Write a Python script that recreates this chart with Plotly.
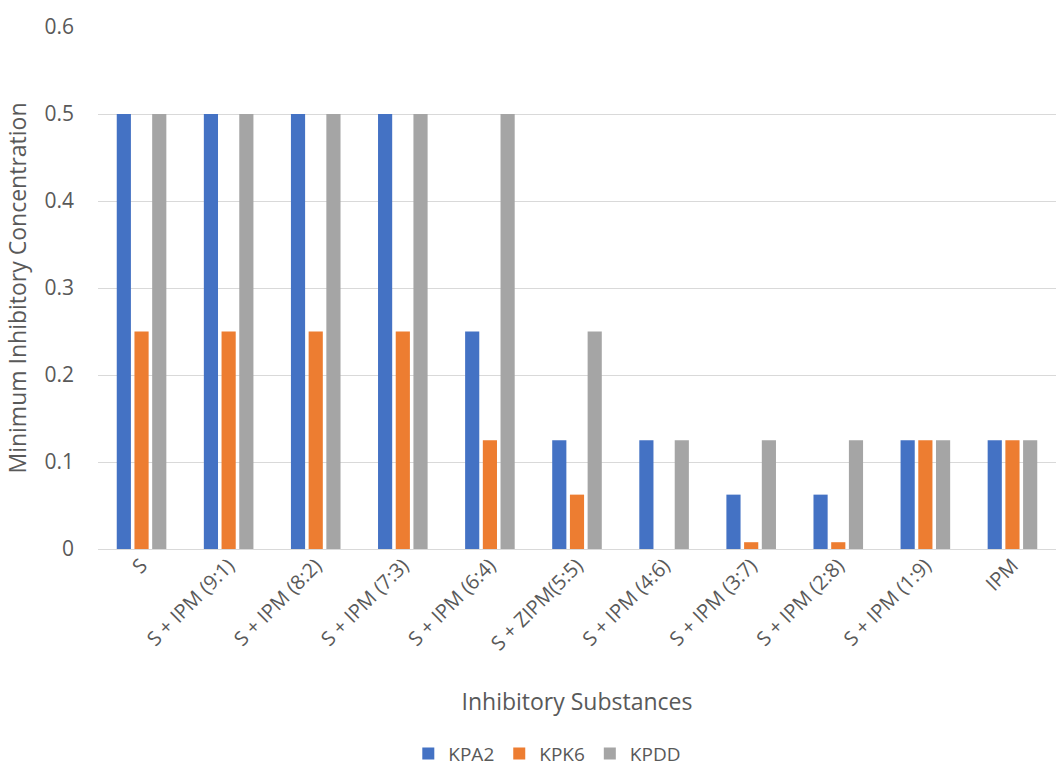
import plotly.graph_objects as go

categories = ["S", "S + IPM (9:1)", "S + IPM (8:2)", "S + IPM (7:3)", "S + IPM (6:4)",
              "S + ZIPM(5:5)", "S + IPM (4:6)", "S + IPM (3:7)", "S + IPM (2:8)",
              "S + IPM (1:9)", "IPM"]
kpa2 = [0.5, 0.5, 0.5, 0.5, 0.25, 0.125, 0.125, 0.0625, 0.0625, 0.125, 0.125]
kpk6 = [0.25, 0.25, 0.25, 0.25, 0.125, 0.0625, 0, 0.0078, 0.0078, 0.125, 0.125]
kpdd = [0.5, 0.5, 0.5, 0.5, 0.5, 0.25, 0.125, 0.125, 0.125, 0.125, 0.125]
y_ticks = [0, 0.1, 0.2, 0.3, 0.4, 0.5, 0.6]

font_family = "Open Sans, Liberation Sans, sans-serif"
text_color = "#595959"

fig = go.Figure()
for name, vals, color in [("KPA2", kpa2, "#4472C4"), ("KPK6", kpk6, "#ED7D31"), ("KPDD", kpdd, "#A5A5A5")]:
    fig.add_trace(go.Bar(x=categories, y=vals, name=name, marker_color=color, marker_line_width=0))

fig.update_layout(
    width=1063, height=781,
    barmode="group", bargap=0.39, bargroupgap=0.2,
    plot_bgcolor="white", paper_bgcolor="white",
    margin=dict(l=98, r=7, t=27, b=232, autoexpand=False),
    font=dict(family=font_family, color=text_color, size=20),
    legend=dict(orientation="h", x=0.469, xanchor="center", y=-0.392, yanchor="middle",
                font=dict(size=19, color=text_color), traceorder="normal", itemwidth=30),
    xaxis=dict(tickangle=-45, tickfont=dict(size=20, color=text_color),
               title=dict(text="Inhibitory Substances", font=dict(size=23, color=text_color), standoff=38),
               showline=False, ticks="", automargin=False),
    yaxis=dict(range=[0, 0.6], tickvals=y_ticks, ticktext=[f"{v:g}" for v in y_ticks],
               tickfont=dict(size=21, color=text_color), gridcolor="#D9D9D9", gridwidth=1,
               zeroline=True, zerolinecolor="#D9D9D9", zerolinewidth=1,
               title=dict(text="Minimum Inhibitory Concentration", font=dict(size=23, color=text_color), standoff=11),
               ticks="", ticklabelstandoff=23, automargin=False),
)

fig.write_html("out.html")
